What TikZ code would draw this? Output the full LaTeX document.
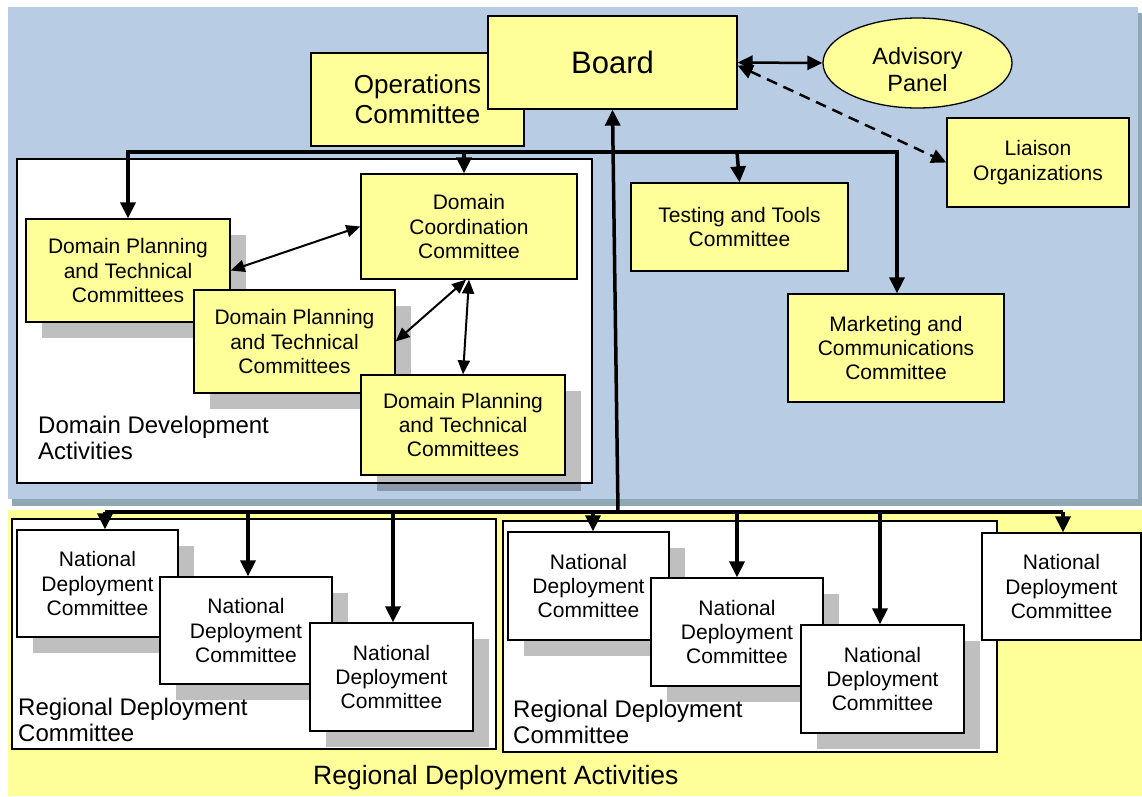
\documentclass[tikz,border=0pt]{standalone}
\usepackage{fontspec}
\setmainfont{Liberation Sans}
\usetikzlibrary{arrows.meta,shadows,shapes.geometric}
\definecolor{panelblue}{RGB}{184,204,228}
\definecolor{panelshadow}{RGB}{143,169,180}
\definecolor{boxyellow}{RGB}{255,255,153}
\begin{document}
\begin{tikzpicture}[x=1pt,y=-1pt,
  ybox/.style={draw, fill=boxyellow, line width=1.3pt, align=center, inner sep=0pt,
               font=\fontsize{21}{24.2}\selectfont},
  wbox/.style={ybox, fill=white},
  shad/.style={drop shadow={shadow xshift=16pt, shadow yshift=-16pt, fill=black, opacity=0.25}},
  area/.style={draw, fill=white, line width=1.6pt},
  bus/.style={line width=3.5pt},
  tip/.style={-{Triangle[length=16pt,width=15pt]}},
  thinarr/.style={line width=2pt, {Triangle[length=14pt,width=12pt]}-{Triangle[length=14pt,width=12pt]}},
  biarr/.style={line width=2.5pt, {Triangle[length=15pt,width=14pt]}-{Triangle[length=15pt,width=14pt]}},
  lbl/.style={inner sep=0pt, align=left}
]
\useasboundingbox (0,0) rectangle (1142,796);
\fill[white] (0,0) rectangle (1142,796);
% panels
\fill[panelshadow] (12,13) rectangle (1142,506);
\fill[panelblue] (8,7) rectangle (1138,499);
\fill[boxyellow] (8,510) rectangle (1142,796);
\draw[area] (17,159) rectangle (592,483);
\draw[area] (12,519) rectangle (496,749);
\draw[area] (503,521) rectangle (997,752);

% domain boxes
\node[ybox, shad, minimum width=204pt, minimum height=103pt] (dpt1) at (128,270.5) {Domain Planning\\and Technical\\Committees};
\node[ybox, shad, minimum width=201pt, minimum height=103pt] (dpt2) at (294.5,341.5) {Domain Planning\\and Technical\\Committees};
\node[ybox, shad, minimum width=204pt, minimum height=100pt] (dpt3) at (463,425) {Domain Planning\\and Technical\\Committees};
\node[ybox, minimum width=216pt, minimum height=105pt] (dc) at (469,226.5) {Domain\\Coordination\\Committee};

% top boxes
\node[ybox, minimum width=213pt, minimum height=93pt, font=\fontsize{26}{30}\selectfont] (ops) at (417.5,99.5) {Operations\\Committee};
\node[ybox, minimum width=249pt, minimum height=93pt, font=\fontsize{31}{36}\selectfont] (board) at (612.5,62.5) {Board};
\node[ellipse, draw, fill=boxyellow, line width=1.3pt, minimum width=189pt, minimum height=90pt, inner sep=0pt,
      label={[yshift=-7pt, align=center, font=\fontsize{23.5}{27}\selectfont]center:Advisory\\Panel}] (adv) at (917.5,63) {};
\node[ybox, minimum width=182pt, minimum height=89pt] (liaison) at (1038,162.5) {Liaison\\Organizations};
\node[ybox, minimum width=217pt, minimum height=88pt] (testing) at (739.5,227) {Testing and Tools\\Committee};
\node[ybox, minimum width=216pt, minimum height=108pt] (mkt) at (896,348) {Marketing and\\Communications\\Committee};

% national boxes
\node[wbox, shad, minimum width=161pt, minimum height=107pt] (ndc1) at (97.5,583.5) {National\\Deployment\\Committee};
\node[wbox, shad, minimum width=172pt, minimum height=107pt] (ndc2) at (246,630.5) {National\\Deployment\\Committee};
\node[wbox, shad, minimum width=163pt, minimum height=108pt] (ndc3) at (391.5,677) {National\\Deployment\\Committee};
\node[wbox, shad, minimum width=161pt, minimum height=108pt] (ndc4) at (588.5,586) {National\\Deployment\\Committee};
\node[wbox, shad, minimum width=172pt, minimum height=108pt] (ndc5) at (737,632) {National\\Deployment\\Committee};
\node[wbox, shad, minimum width=163pt, minimum height=108pt] (ndc6) at (882.5,679) {National\\Deployment\\Committee};
\node[wbox, minimum width=159pt, minimum height=107pt] (ndc7) at (1061.5,586.5) {National\\Deployment\\Committee};

% labels
\node[lbl, anchor=south west, font=\fontsize{24}{26.5}\selectfont] (ddalbl) at (38,460) {Domain Development\\Activities};
\node[lbl, anchor=south west, font=\fontsize{24}{26.5}\selectfont] (rdc1lbl) at (18,742) {Regional Deployment\\Committee};
\node[lbl, anchor=south west, font=\fontsize{24}{26.5}\selectfont] (rdc2lbl) at (513,744) {Regional Deployment\\Committee};
\node[lbl, anchor=base west, font=\fontsize{26.5}{30}\selectfont] (rdalbl) at (313,784) {Regional Deployment Activities};

% top bus
\coordinate (t1) at (128,152);
\coordinate (t2) at (464,152);
\coordinate (t3) at (737,152);
\coordinate (t4) at (897,152);
\draw[bus, line join=miter] (t1 |- dpt1.north) ++(0,-14) -- (t1) -- (t4) -- ++(0,14);
\draw[bus, tip] (t1) -- (dpt1.north);
\draw[bus, tip] (t2) -- (t2 |- dc.north);
\draw[bus, tip] (t3) -- (testing.north);
\draw[bus, tip] (t4) -- (t4 |- mkt.north);

% bottom bus
\coordinate (b0) at (618,512);
\coordinate (b1) at (105,512);
\coordinate (b2) at (248,512);
\coordinate (b3) at (393,512);
\coordinate (b4) at (593,512);
\coordinate (b5) at (737,512);
\coordinate (b6) at (880,512);
\coordinate (b7) at (1063,512);
\draw[bus] (b1) -- (b7);
\draw[bus, tip] (b0) -- (board.south);
\draw[bus, tip] (b1) -- (b1 |- ndc1.north);
\draw[bus, tip] (b2) -- (b2 |- ndc2.north);
\draw[bus, tip] (b3) -- (b3 |- ndc3.north);
\draw[bus, tip] (b4) -- (b4 |- ndc4.north);
\draw[bus, tip] (b5) -- (b5 |- ndc5.north);
\draw[bus, tip] (b6) -- (b6 |- ndc6.north);
\draw[bus, tip] (b7) -- (b7 |- ndc7.north);

% domain connectors
\draw[thinarr] (dpt1.east) -- (dc.west);
\draw[thinarr] ([xshift=-3pt]dc.south) -- (dpt2.east);
\draw[thinarr] (dc.south) -- (dpt3.north);

% board connectors
\draw[biarr] (board.east) -- (adv.west);
\draw[biarr, dash pattern=on 11pt off 7pt] ([yshift=-3pt]board.east) -- (liaison.west);
\end{tikzpicture}
\end{document}
